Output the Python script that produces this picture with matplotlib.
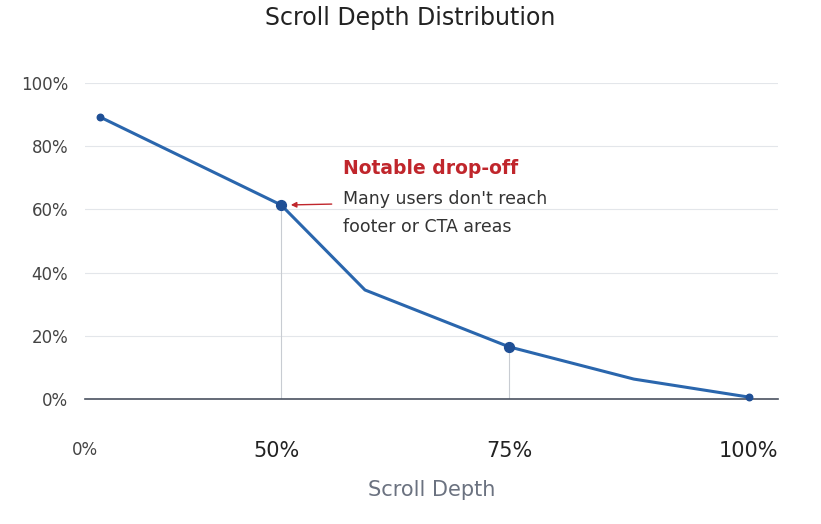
import matplotlib
matplotlib.use("Agg")
import matplotlib.pyplot as plt

x_pos = [2.2, 28.3, 40.4, 61.2, 79.2, 95.8]
y_vals = [89.2, 61.4, 34.5, 16.5, 6.3, 0.6]
tick_pos = [0, 27.7, 61.2, 95.8]
tick_labels = ["0%", "50%", "75%", "100%"]
y_ticks = [0, 20, 40, 60, 80, 100]

fig = plt.figure(figsize=(8.21, 5.24), dpi=100)
ax = fig.add_axes([85/821, 1-399/524, 693/821, 316/524])
blue = "#2a66ad"
for yt in y_ticks[1:]:
    ax.axhline(yt, color="#e3e6ea", lw=0.8, zorder=0)
ax.axhline(0, color="#4a5260", lw=1.2, zorder=2, clip_on=False)
for i in (1, 3):
    ax.plot([x_pos[i], x_pos[i]], [0, y_vals[i]], color="#c8ccd2", lw=0.8, zorder=1)
ax.plot(x_pos, y_vals, color=blue, lw=2.2, zorder=3, clip_on=False)
ax.scatter([x_pos[0], x_pos[-1]], [y_vals[0], y_vals[-1]], s=22, color="#1f4f95", zorder=4, clip_on=False)
ax.scatter([x_pos[1], x_pos[3]], [y_vals[1], y_vals[3]], s=50, color="#1f4f95", zorder=4, clip_on=False)
ax.set_xlim(0, 100)
ax.set_ylim(0, 100)
ax.set_yticks(y_ticks)
ax.set_yticklabels([f"{v}%" for v in y_ticks], color="#444", fontsize=12)
ax.set_xticks(tick_pos)
ax.set_xticklabels(tick_labels, fontsize=15, color="#222")
ax.get_xticklabels()[0].set_fontsize(12)
ax.get_xticklabels()[0].set_color("#444")
ax.tick_params(length=0, pad=12)
ax.tick_params(axis="x", pad=30)
for s in ax.spines.values():
    s.set_visible(False)
ax.set_xlabel("Scroll Depth", fontsize=15, color="#6b7280", labelpad=14)
fig.text(0.5, 1-18/524, "Scroll Depth Distribution", ha="center", va="center", fontsize=17, color="#222")
ax.annotate("", xy=(x_pos[1]+1.0, y_vals[1]), xytext=(36.0, y_vals[1]+0.3),
            arrowprops=dict(arrowstyle="-|>", color="#c0262c", lw=1.0, mutation_scale=8))
ax.text(37.2, 73.0, "Notable drop-off", color="#c0262c", fontsize=13.5, fontweight="bold", va="center")
ax.text(37.2, 63.3, "Many users don't reach", color="#333", fontsize=12.5, va="center")
ax.text(37.2, 54.4, "footer or CTA areas", color="#333", fontsize=12.5, va="center")
fig.savefig("out.png", dpi=100)
